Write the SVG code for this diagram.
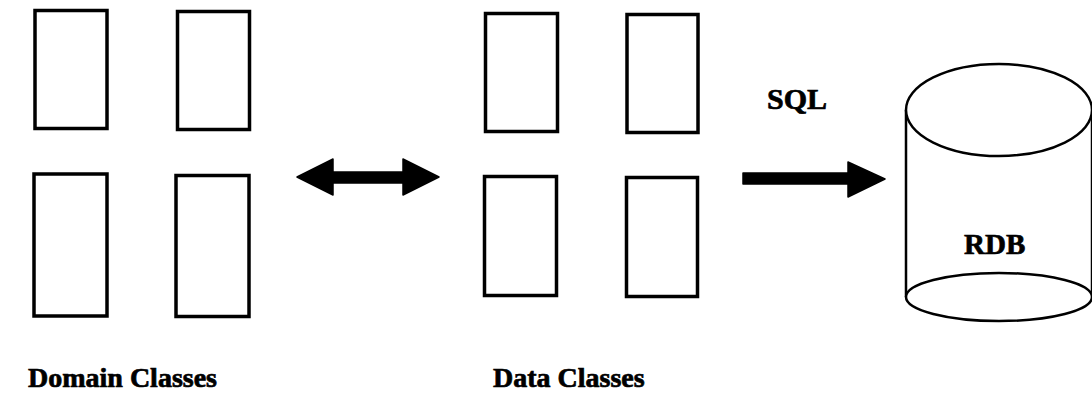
<svg xmlns="http://www.w3.org/2000/svg" width="1092" height="398" viewBox="0 0 1092 398">
<style>
.box{fill:#fff;stroke:#000;stroke-width:3.5}
.cyl{fill:#fff;stroke:#000;stroke-width:2.5}
.lbl{font-family:"Liberation Serif","Times New Roman",serif;font-weight:bold;fill:#000;stroke:#000;stroke-width:0.7}
.arr{fill:#000;stroke:#000;stroke-width:1.5;stroke-linejoin:round}
</style>
<rect width="1092" height="398" fill="#fff"/>
<g id="domain-classes">
<g id="domain1"><rect class="box" x="35" y="10.5" width="72" height="118"/></g>
<g id="domain2"><rect class="box" x="177.5" y="11.5" width="72" height="118"/></g>
<g id="domain3"><rect class="box" x="34" y="174" width="73" height="142"/></g>
<g id="domain4"><rect class="box" x="176" y="175.5" width="73" height="141"/></g>
<text class="lbl" x="28" y="387" font-size="28">Domain Classes</text>
</g>
<g id="data-classes">
<g id="data1"><rect class="box" x="485.5" y="13.5" width="72" height="118"/></g>
<g id="data2"><rect class="box" x="627" y="14.5" width="71" height="118"/></g>
<g id="data3"><rect class="box" x="484.5" y="176.5" width="72" height="119"/></g>
<g id="data4"><rect class="box" x="626.5" y="177.5" width="71" height="119"/></g>
<text class="lbl" x="493" y="387" font-size="28">Data Classes</text>
</g>
<g id="rdb">
<path class="cyl" d="M906,110 L906,297 A93,24 0 0 0 1092,297 L1092,110"/>
<ellipse class="cyl" cx="999" cy="110" rx="93" ry="46"/>
<path class="cyl" d="M906,297 A93,24 0 0 1 1092,297"/>
<text class="lbl" x="964" y="254" font-size="29">RDB</text>
</g>
<g id="connectors">
<path id="bidir" class="arr" d="M297,177 L333,159 L333,172 L403,172 L403,159 L439,177 L403,195 L403,183 L333,183 L333,195 Z"/>
<path id="sql-arrow" class="arr" d="M743,173 L848,173 L848,162 L885,179 L848,197 L848,184 L743,184 Z"/>
<text class="lbl" x="767" y="109" font-size="30">SQL</text>
</g>
</svg>
